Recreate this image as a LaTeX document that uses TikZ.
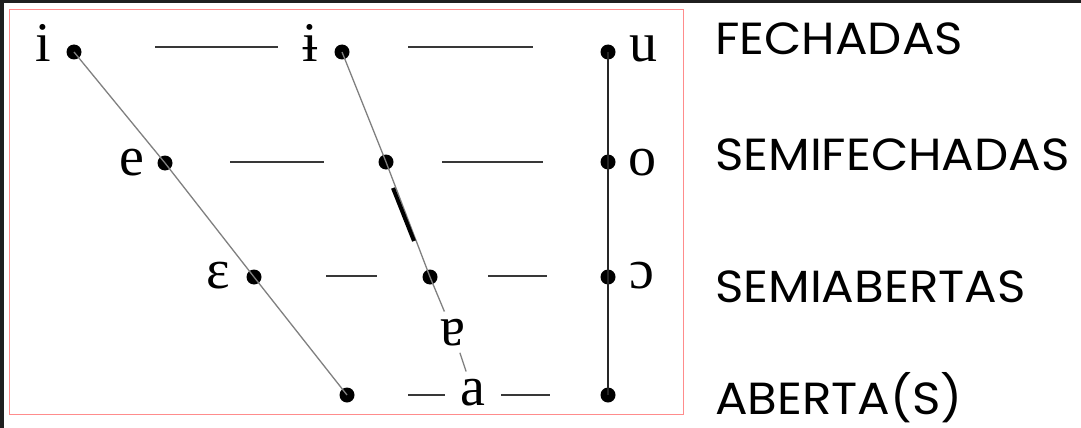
\documentclass[tikz,border=0pt]{standalone}
\usepackage{fontspec}
\setmainfont{Liberation Serif}
\newfontfamily\labfont{Poppins}[FakeStretch=1.075]
\begin{document}
\begin{tikzpicture}[x=1pt,y=-1pt,
  dot/.style={circle,fill=black,inner sep=0pt,minimum size=15pt},
  ipa/.style={font=\fontsize{56}{56}\selectfont,anchor=base,inner sep=0pt},
  gapipa/.style={ipa,inner sep=7pt},
  cat/.style={font=\labfont\fontsize{45}{45}\selectfont,anchor=base west,inner sep=0pt},
  hl/.style={line width=1.6pt,draw=black!78},
  diag/.style={line width=1.3pt,draw=black!50},
  vl/.style={line width=2pt,draw=black!85},
  thick seg/.style={line width=4pt,draw=black}]
\useasboundingbox (0,0) rectangle (1081,428);
\fill[white] (0,0) rectangle (1081,428);
\fill[black!88] (0,0) rectangle (1081,3.5);
\fill[black!88] (0,0) rectangle (3.5,428);
\draw[draw=red!45!white,line width=1pt] (9.5,10) rectangle (683,414);

% dots
\node[dot] (di) at (74,52) {};
\node[dot] (dbi) at (342,52) {};
\node[dot] (du) at (608,52) {};
\node[dot] (de) at (165,163) {};
\node[dot] (dc2) at (386,162) {};
\node[dot] (do) at (608,162) {};
\node[dot] (deps) at (254,277) {};
\node[dot] (dc3) at (430,277) {};
\node[dot] (doo) at (608,277) {};
\node[dot] (dab) at (347,395) {};
\node[dot] (dbr) at (608,395) {};

% ipa labels
\node[ipa] (li) at (43,62) {i};
\node[ipa] (lbi) at (310,62) {ɨ};
\node[ipa] (lu) at (643,62) {u};
\node[ipa] (le) at (132,175) {e};
\node[ipa] (lo) at (642,175) {o};
\node[ipa] (leps) at (218,288) {ɛ};
\node[ipa] (loo) at (642,288) {ɔ};
\node[gapipa] (ltur) at (453,345) {ɐ};
\node[gapipa] (la) at (473,405) {a};

% horizontal dashes
\coordinate (h1a) at (155,47); \coordinate (h1b) at (278,47);
\coordinate (h1c) at (408,47); \coordinate (h1d) at (533,47);
\coordinate (h2a) at (230,162); \coordinate (h2b) at (324,162);
\coordinate (h2c) at (442,162); \coordinate (h2d) at (543,162);
\coordinate (h3a) at (326,276); \coordinate (h3b) at (377,276);
\coordinate (h3c) at (488,276); \coordinate (h3d) at (547,276);
\coordinate (h4a) at (408,395); \coordinate (h4b) at (445,395);
\coordinate (h4c) at (501,395); \coordinate (h4d) at (550,395);
\foreach \p/\q in {h1a/h1b,h1c/h1d,h2a/h2b,h2c/h2d,h3a/h3b,h3c/h3d,h4a/h4b,h4c/h4d}
  \draw[hl] (\p) -- (\q);

% diagonals
\draw[diag] (di.center) -- (de.center) -- (deps.center) -- (dab.center);
\draw[diag] (dbi.center) -- (dc2.center) -- (dc3.center) -- (ltur);
\draw[diag] (ltur) -- (la);
\coordinate (t1) at (393,188); \coordinate (t2) at (414,241);
\draw[thick seg] (t1) -- (t2);

% vertical
\draw[vl] (du.center) -- (do.center) -- (doo.center) -- (dbr.center);

% categories
\node[cat] (c1) at (715,55) {FECHADAS};
\node[cat] (c2) at (715,170) {SEMIFECHADAS};
\node[cat] (c3) at (715,302) {SEMIABERTAS};
\node[cat] (c4) at (715,414) {ABERTA(S)};
\end{tikzpicture}
\end{document}
